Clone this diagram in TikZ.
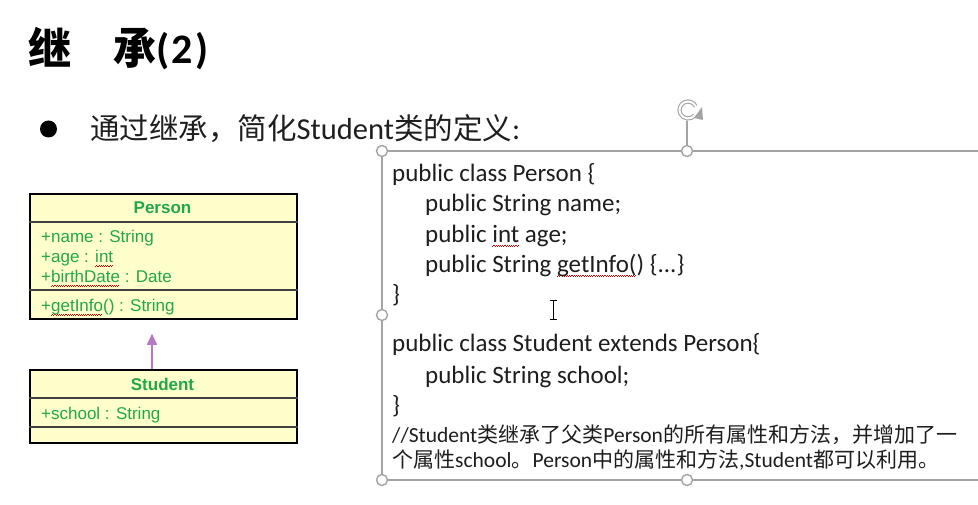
\documentclass[tikz,border=0pt]{standalone}
\usepackage{fontspec}
\setmainfont{Carlito}
\newfontfamily\cjk{Noto Sans CJK SC}
\newfontfamily\arialf{Liberation Sans}
\usetikzlibrary{arrows.meta}
\definecolor{umlfill}{HTML}{FFFFCC}
\definecolor{umlgreen}{HTML}{22A64C}
\definecolor{arrowpurple}{HTML}{B877C4}
\definecolor{handlegray}{HTML}{A3A3A3}
\definecolor{codeblack}{HTML}{1E1E1E}
\newcommand\spellerr[1]{\setbox0=\hbox{#1}\rlap{\textcolor{red!85!black}{\leaders\hbox{\rule[-3.4pt]{1.1pt}{0.7pt}\rule[-2.6pt]{1.1pt}{0.7pt}}\hskip\wd0}}\box0\relax}
\newcommand\zhc[1]{{\cjk\fontsize{21}{25}\selectfont #1}}
\newcommand\zhb[1]{{\cjk\fontsize{29.5}{32}\selectfont #1}}
\tikzset{
  umlbox/.style={draw=black, line width=1.8pt, fill=umlfill, inner sep=0pt, anchor=north west},
  umldiv/.style={draw=black!75, line width=1.2pt},
  umltitle/.style={font=\arialf\bfseries\fontsize{17}{20}\selectfont, text=umlgreen, inner sep=0pt},
  umlattr/.style={font=\arialf\fontsize{17}{20}\selectfont, text=umlgreen, inner sep=0pt, anchor=base west},
  inherit/.style={draw=arrowpurple, line width=1.4pt, -{Triangle[length=11pt,width=10pt]}, shorten >=14pt},
  codeline/.style={font=\fontsize{25}{30}\selectfont, text=codeblack, inner sep=0pt, anchor=base west},
  commentline/.style={font=\fontsize{21.5}{25}\selectfont, text=codeblack, inner sep=0pt, anchor=base west},
  boxedge/.style={draw=handlegray, line width=1.3pt},
  handle/.style={circle, draw=handlegray, line width=1.4pt, fill=white, minimum size=11pt, inner sep=0pt},
  titlezh/.style={font=\cjk\bfseries\fontsize{43}{45}\selectfont, inner sep=0pt, anchor=base west},
}
\begin{document}
\begin{tikzpicture}[x=1pt,y=-1pt]
\useasboundingbox[fill=white] (0,0) rectangle (978,505);

% title
\node[titlezh] (t1) at (28,65) {继};
\node[titlezh] (t2) at (113,65) {承};
\node[font=\bfseries\fontsize{42}{44}\selectfont, inner sep=0pt, anchor=base west] (t3) at (156,64) {(\kern2.5pt2\kern2.5pt)};

% bullet line
\fill (48.5,129) circle (8.5);
\node[font=\fontsize{30.5}{32}\selectfont, text=black!88, inner sep=0pt, anchor=base west] (b1) at (90,140)
  {\zhb{通过继承，简化}Student\zhb{类的定义}:};

% UML Person
\node[umlbox, minimum width=267pt, minimum height=125pt] (person) at (29,193) {};
\draw[umldiv] (person.west |- 0,222) -- (person.east |- 0,222);
\draw[umldiv] (person.west |- 0,290) -- (person.east |- 0,290);
\node[umltitle] (ptitle) at (162.5,208) {Person};
\node[umlattr] (pa1) at (41,243) {+name : String};
\node[umlattr] (pa2) at (41,263) {+age : \spellerr{int}};
\node[umlattr] (pa3) at (41,283) {+\spellerr{birthDate} : Date};
\node[umlattr] (pm1) at (41,312) {+\spellerr{getInfo}() : String};

% UML Student
\node[umlbox, minimum width=267pt, minimum height=73pt] (student) at (29,369) {};
\draw[umldiv] (student.west |- 0,398) -- (student.east |- 0,398);
\draw[umldiv] (student.west |- 0,427) -- (student.east |- 0,427);
\node[umltitle] (stitle) at (162.5,384) {Student};
\node[umlattr] (sa1) at (41,419) {+school : String};

% inheritance arrow
\coordinate (arrx) at (152,0);
\draw[inherit] (student.north -| arrx) -- (person.south -| arrx);

% text box frame
\draw[boxedge] (978,151) -- (382,151) -- (382,480) -- (978,480);
\draw[handlegray, line width=1.3pt] (687,145) -- (687,121);
\node[handle] (h1) at (382,151) {};
\node[handle] (h2) at (687,151) {};
\node[handle] (h3) at (382,315) {};
\node[handle] (h4) at (382,480) {};
\node[handle] (h5) at (687,480) {};
% rotation handle
\draw[handlegray, line width=1.1pt, double=white, double distance=2pt]
  (688,110) ++(-25:8.5) arc[start angle=-25, end angle=-320, radius=8.5];
\fill[handlegray] (694,118) -- (702,107) -- (703,120) -- cycle;

% code
\node[codeline] (c1) at (392,182) {public class Person \{};
\node[codeline] (c2) at (425,212) {public String name;};
\node[codeline] (c3) at (425,243) {public \spellerr{int} age;};
\node[codeline] (c4) at (425,273) {public String \spellerr{getInfo(}) \{...\}};
\node[codeline] (c5) at (392,303) {\}};
\node[codeline] (c6) at (392,352) {public class Student extends Person\{};
\node[codeline] (c7) at (425,383) {public String school;};
\node[codeline] (c8) at (392,413) {\}};
\node[commentline] (c9) at (392,442) {//Student\zhc{类继承了父类}Person\zhc{的所有属性和方法，并增加了一}};
\node[commentline] (c10) at (392,467) {\zhc{个属性}school\zhc{。}Person\zhc{中的属性和方法},Student\zhc{都可以利用。}};

% text cursor
\draw[black, line width=0.9pt] (553,301) -- (553,319);
\draw[black, line width=0.9pt] (549.5,300.5) -- (556.5,300.5);
\draw[black, line width=0.9pt] (549.5,319.5) -- (556.5,319.5);
\end{tikzpicture}
\end{document}
